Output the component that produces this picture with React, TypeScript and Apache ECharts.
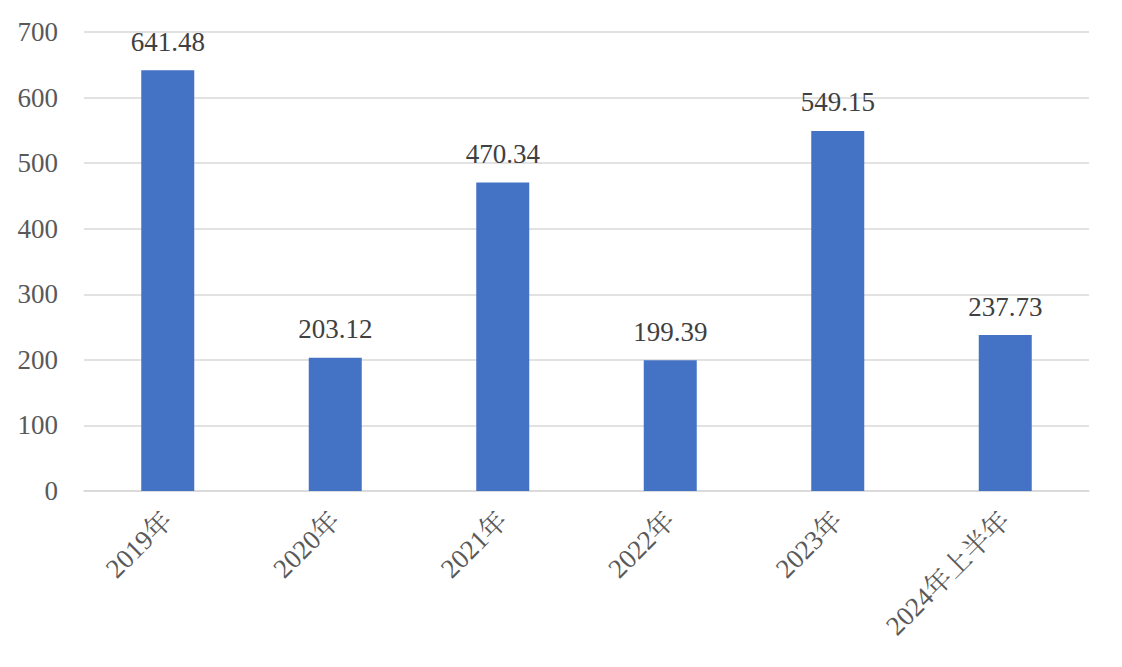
import React, { useEffect, useRef } from "react";
import * as echarts from "echarts";

const categories = ["2019年", "2020年", "2021年", "2022年", "2023年", "2024年上半年"];
const values = [641.48, 203.12, 470.34, 199.39, 549.15, 237.73];
const yTicks = { min: 0, max: 700, interval: 100 };

export default function App() {
  const ref = useRef<HTMLDivElement>(null);
  useEffect(() => {
    const chart = echarts.init(ref.current!, null, { renderer: "svg" });
    chart.setOption({
      animation: false,
      grid: { left: 84, right: 33, top: 32, bottom: 176 },
      xAxis: {
        type: "category",
        data: categories,
        axisLine: { lineStyle: { color: "#d9d9d9", width: 1.5 } },
        axisTick: { show: false },
        axisLabel: {
          rotate: 45,
          margin: 25,
          color: "#595959",
          fontFamily: "Liberation Serif, Noto Serif CJK SC, serif",
          fontSize: 27,
          interval: 0,
        },
      },
      yAxis: {
        type: "value",
        min: yTicks.min,
        max: yTicks.max,
        interval: yTicks.interval,
        axisLine: { show: false },
        axisTick: { show: false },
        splitLine: { lineStyle: { color: "#d9d9d9", width: 1.5 } },
        axisLabel: {
          margin: 26,
          color: "#595959",
          fontFamily: "Liberation Serif, serif",
          fontSize: 27,
        },
      },
      series: [
        {
          type: "bar",
          data: values,
          barWidth: 53,
          itemStyle: { color: "#4472c4" },
          label: {
            show: true,
            position: "top",
            distance: 15,
            color: "#404040",
            fontFamily: "Liberation Serif, serif",
            fontSize: 27,
            formatter: (p: any) => p.value.toFixed(2),
          },
        },
      ],
    });
    return () => chart.dispose();
  }, []);
  return <div ref={ref} style={{ width: 1122, height: 667, position: "absolute", left: 0, top: 0 }} />;
}
